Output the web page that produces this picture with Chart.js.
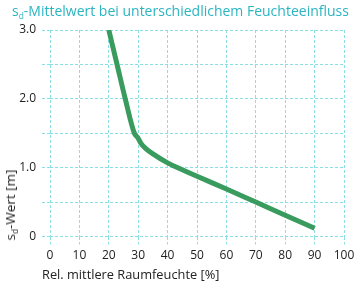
<!DOCTYPE html>
<html>
<head>
<meta charset="utf-8">
<script src="https://cdn.jsdelivr.net/npm/chart.js@4"></script>
<style>
  html, body { margin: 0; padding: 0; background: #fff; }
  #wrap { position: relative; width: 360px; height: 288px; overflow: hidden; font-family: "Open Sans", sans-serif; }
  #chart { position: absolute; left: 0; top: 0; }
  #title { position: absolute; left: 12px; top: 1px; font-size: 14px; color: #2ab5c1; white-space: nowrap; line-height: 20px; }
  #title sub, #ylab sub { font-size: 60%; vertical-align: -0.35em; line-height: 0; }
  #xlab { position: absolute; left: 42px; top: 266px; font-size: 12.8px; color: #222; white-space: nowrap; line-height: 16px; }
  #ylab { position: absolute; left: 10px; top: 205px; font-size: 13.5px; color: #222; white-space: nowrap; line-height: 16px;
          transform: translate(-50%, -50%) rotate(-90deg); }
</style>
</head>
<body>
<div id="wrap">
  <canvas id="chart" width="360" height="288"></canvas>
  <div id="title">s<sub>d</sub>-Mittelwert bei unterschiedlichem Feuchteeinfluss</div>
  <div id="ylab">s<sub>d</sub>-Wert [m]</div>
  <div id="xlab">Rel. mittlere Raumfeuchte [%]</div>
</div>
<script>
// Data
const humidity = [20, 22.8, 25.6, 28.7, 29.8, 31, 32.5, 35, 40, 45, 50, 60, 70, 80, 90];
const sdValue  = [3.0, 2.5, 2.0, 1.5, 1.44, 1.35, 1.28, 1.20, 1.07, 0.97, 0.875, 0.69, 0.50, 0.31, 0.12];
const xTicks = [0, 10, 20, 30, 40, 50, 60, 70, 80, 90, 100];
const yTickLabels = ['0', '1.0', '2.0', '3.0'];

const gridColor = '#8adfe2';
const points = humidity.map((h, i) => ({ x: h, y: sdValue[i] }));

new Chart(document.getElementById('chart'), {
  type: 'line',
  data: {
    datasets: [{
      data: points,
      borderColor: '#3a9b5e',
      borderWidth: 5,
      pointRadius: 0,
      cubicInterpolationMode: 'monotone',
      fill: false
    }]
  },
  options: {
    responsive: false,
    animation: false,
    layout: { padding: { top: 30, right: 16, bottom: 0, left: 0 } },
    plugins: { legend: { display: false }, tooltip: { enabled: false }, title: { display: false } },
    scales: {
      x: {
        type: 'linear',
        min: 0, max: 100,
        afterBuildTicks: (s) => { s.ticks = xTicks.map(v => ({ value: v })); },
        afterFit: (s) => { s.height = 51.5; },
        grid: { color: gridColor, lineWidth: 1, tickLength: 8, tickColor: gridColor, tickBorderDash: [3, 2] },
        border: { display: false, dash: [3, 2] },
        ticks: { color: '#222', font: { family: 'Open Sans', size: 12 }, padding: 4, maxRotation: 0, autoSkip: false }
      },
      y: {
        type: 'linear',
        min: 0, max: 3,
        afterBuildTicks: (s) => { const t = []; for (let i = 0; i <= 6; i++) t.push({ value: i * 0.5 }); s.ticks = t; },
        afterFit: (s) => { s.width = 50; },
        grid: { color: gridColor, lineWidth: 1, tickLength: 8, tickColor: gridColor, tickBorderDash: [3, 2] },
        border: { display: false, dash: [3, 2] },
        ticks: {
          color: '#222', font: { family: 'Open Sans', size: 12 }, padding: 6, autoSkip: false,
          callback: (v) => Number.isInteger(v) ? yTickLabels[v] : ''
        }
      }
    }
  },
  plugins: [{
    id: 'dashGrid',
    beforeDraw(chart) {
      chart.options.scales.x.grid.borderDash = [3, 2];
    }
  }]
});
</script>
</body>
</html>
